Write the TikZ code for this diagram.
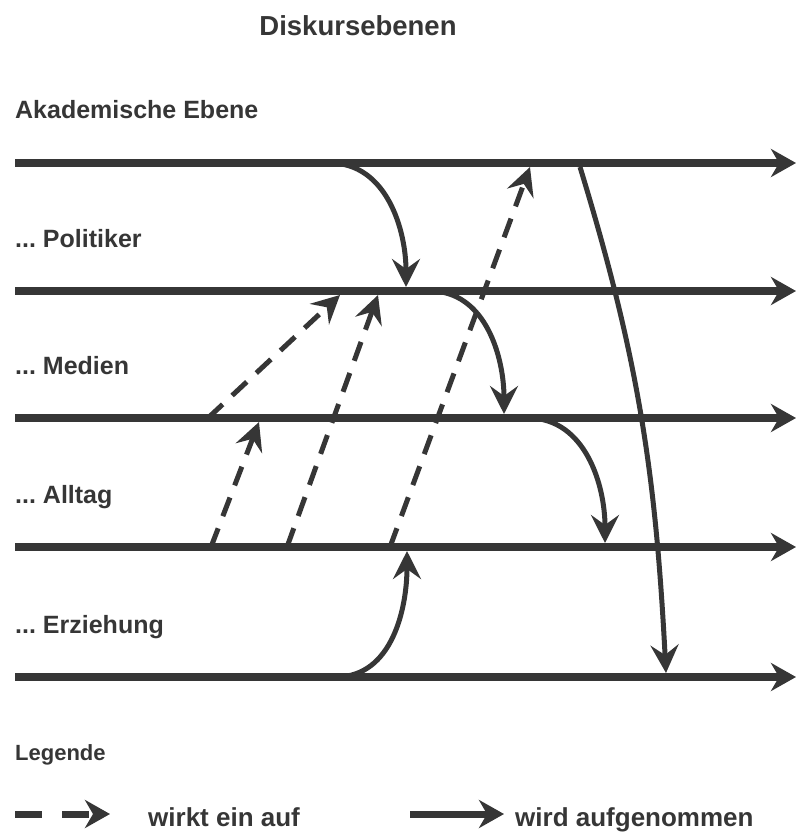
\documentclass[tikz,border=0pt]{standalone}
\usepackage{fontspec}
\setmainfont{Liberation Sans}
\usetikzlibrary{arrows.meta,positioning}
\definecolor{inkgray}{HTML}{363636}
\newcommand{\lvldots}{...\ }
\tikzset{
  levelline/.style={line width=8pt,inkgray,-{Stealth[length=25pt,width=28pt,inset=8pt]}},
  takeup/.style={line width=5pt,inkgray,-{Stealth[length=28pt,width=28pt,inset=10pt]}},
  impact/.style={takeup,dash pattern=on 20pt off 13pt},
  lvllabel/.style={anchor=base west,inner sep=0pt,text=inkgray,font=\bfseries\fontsize{25}{30}\selectfont}
}

\begin{document}
\begin{tikzpicture}[x=1pt,y=1pt]
  \useasboundingbox (0,0) rectangle (797,-832);
  \node[lvllabel,anchor=base,font=\bfseries\fontsize{27.5}{32}\selectfont] (title) at (358,-36) {Diskursebenen};
  % Ebenen
  \foreach \n/\y/\t in {ak/163/Akademische Ebene,po/291/\lvldots Politiker,me/418/\lvldots Medien,al/547/\lvldots Alltag,er/677/\lvldots Erziehung}{
    \coordinate (\n L) at (15,-\y);
    \coordinate (\n R) at (796,-\y);
    \draw[levelline] (\n L) -- (\n R);
    \node[lvllabel] (\n txt) at (15,-\y+44) {\t};
  }
  % wird aufgenommen
  \coordinate (ak1) at (330,-163); \coordinate (po1) at (406,-287);
  \coordinate (po2) at (430,-291); \coordinate (me1) at (504,-414);
  \coordinate (me2) at (528,-418); \coordinate (al1) at (605,-543);
  \coordinate (er1) at (336,-677); \coordinate (al2) at (407,-551);
  \coordinate (ak2) at (580,-167); \coordinate (er2) at (666,-673);
  \draw[takeup] (ak1) to[out=0,in=90] (po1);
  \draw[takeup] (po2) to[out=0,in=90] (me1);
  \draw[takeup] (me2) to[out=0,in=90] (al1);
  \draw[takeup] (er1) to[out=0,in=-90] (al2);
  \draw[takeup] (ak2) to[out=-73,in=93] (er2);
  % wirkt ein auf
  \coordinate (me3) at (208,-418); \coordinate (po3) at (340,-295);
  \coordinate (al3) at (211,-547); \coordinate (me4) at (259,-422);
  \coordinate (al4) at (287,-547); \coordinate (po4) at (378,-295);
  \coordinate (al5) at (390,-547); \coordinate (ak3) at (530,-167);
  \draw[impact] (me3) -- (po3);
  \draw[impact] (al3) -- (me4);
  \draw[impact] (al4) -- (po4);
  \draw[impact] (al5) -- (ak3);
  % Legende
  \node[lvllabel,font=\bfseries\fontsize{22}{26}\selectfont] (legend) at (15,-760) {Legende};
  \coordinate (dashA) at (15,-814); \coordinate (dashB) at (110,-814);
  \coordinate (solidA) at (410,-814); \coordinate (solidB) at (504,-814);
  \draw[levelline,line width=7pt,dash pattern=on 27pt off 20pt] (dashA) -- (dashB);
  \draw[levelline,line width=7pt] (solidA) -- (solidB);
  \node[lvllabel,font=\bfseries\fontsize{26}{30}\selectfont] (impacttxt) at (148,-826) {wirkt ein auf};
  \node[lvllabel,font=\bfseries\fontsize{26}{30}\selectfont] (takeuptxt) at (515,-826) {wird aufgenommen};
\end{tikzpicture}
\end{document}
